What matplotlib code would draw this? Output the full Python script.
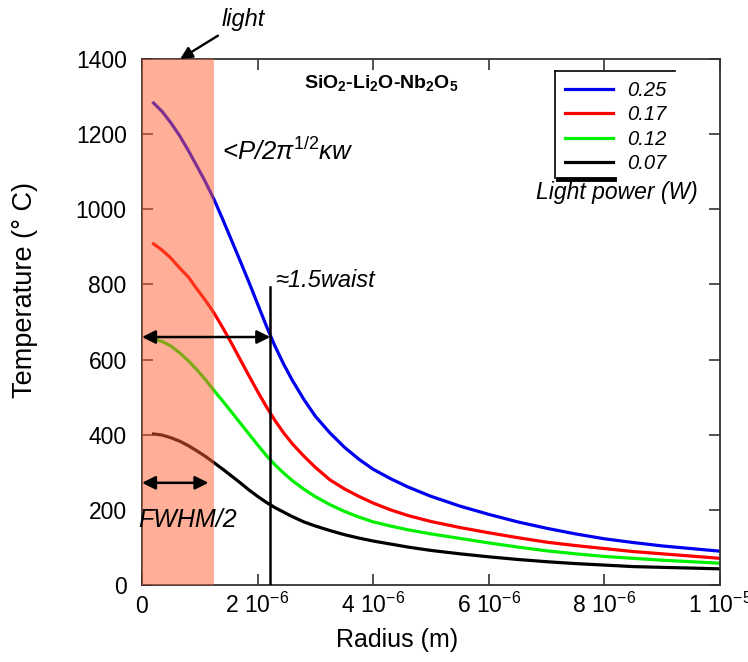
import numpy as np
import matplotlib
matplotlib.use('Agg')
import matplotlib.pyplot as plt

plt.rcParams['font.family'] = ['Liberation Sans', 'DejaVu Sans']
plt.rcParams['mathtext.fontset'] = 'custom'
plt.rcParams['mathtext.rm'] = 'Liberation Sans'
plt.rcParams['mathtext.it'] = 'Liberation Sans:italic'
plt.rcParams['mathtext.bf'] = 'Liberation Sans:bold'

# radius in micrometres
radius_um = [0.2, 0.35, 0.5, 0.65, 0.8, 0.95, 1.1, 1.25, 1.4, 1.55, 1.7, 1.85,
             2.0, 2.15, 2.3, 2.45, 2.6, 2.8, 3.0, 3.25, 3.5, 3.75, 4.0, 4.3,
             4.6, 5.0, 5.5, 6.0, 6.5, 7.0, 7.5, 8.0, 8.5, 9.0, 9.5, 10.0]
T_025 = [1283, 1260, 1230, 1196, 1157, 1115, 1072, 1025, 972, 917, 862, 806,
         748, 690, 636, 588, 545, 494, 449, 405, 367, 335, 308, 283,
         261, 236, 210, 188, 168, 151, 136, 123, 113, 104, 97, 90]
T_017 = [908, 891, 870, 844, 820, 788, 757, 723, 684, 643, 600, 557,
         515, 475, 438, 405, 376, 343, 313, 280, 256, 236, 218, 200,
         185, 169, 153, 139, 126, 114, 105, 97, 89, 83, 77, 71]
T_012 = [654, 648, 636, 618, 597, 573, 546, 517, 489, 460, 431, 402,
         373, 345, 320, 298, 278, 255, 235, 214, 196, 181, 168, 157,
         147, 136, 124, 112, 101, 91, 83, 76, 71, 66, 62, 58]
T_007 = [402, 399, 392, 383, 371, 357, 342, 325, 308, 290, 272, 253,
         236, 220, 206, 194, 182, 168, 157, 145, 134, 125, 117, 109,
         101, 92, 83, 75, 68, 62, 57, 53, 49, 47, 45, 43]
powers = ['0.25', '0.17', '0.12', '0.07']
colors = ['#0000f0', '#ff0000', '#00f000', '#000000']

xticks = [0, 2e-6, 4e-6, 6e-6, 8e-6, 1e-5]
xticklabels = ['0', '2 10$^{-6}$', '4 10$^{-6}$', '6 10$^{-6}$',
               '8 10$^{-6}$', '1 10$^{-5}$']
yticks = [0, 200, 400, 600, 800, 1000, 1200, 1400]

light_edge = 1.245e-6   # shaded beam region
waist_x = 2.22e-6
waist_T = 660
fwhm_x = 1.15e-6
fwhm_T = 272

r = np.array(radius_um) * 1e-6

fig = plt.figure(figsize=(7.48, 6.62), dpi=100)
ax = fig.add_axes([142/748, 1-585/662, 578/748, 526/662])

lines = []
for T, c, lab in zip([T_025, T_017, T_012, T_007], colors, powers):
    l, = ax.plot(r, T, color=c, lw=2.3, label=lab, zorder=2)
    lines.append(l)

ax.axvspan(0, light_edge, color=(1.0, 0.38, 0.2), alpha=0.5, lw=0, zorder=3)

ax.set_xlim(0, 1e-5)
ax.set_ylim(0, 1400)
ax.set_xticks(xticks)
ax.set_xticklabels(xticklabels)
ax.set_yticks(yticks)
ax.tick_params(direction='in', length=8, width=1.2, labelsize=16.5,
               top=True, right=True, color='#333333')
ax.tick_params(axis='y', pad=11)
ax.tick_params(axis='x', pad=20)
for lbl in ax.get_xticklabels():
    lbl.set_verticalalignment('baseline')
for s in ax.spines.values():
    s.set_linewidth(1.3)
    s.set_color('#333333')

ax.set_xlabel('Radius (m)', fontsize=18)
ax.xaxis.set_label_coords(0.441, -0.082)
ax.set_ylabel('Temperature (° C)', fontsize=19.5)
ax.yaxis.set_label_coords(-0.18, 0.56)

# arrows and marker line
ax.annotate('', xy=(0, waist_T), xytext=(waist_x, waist_T),
            arrowprops=dict(arrowstyle='<|-|>', color='k', lw=1.8,
                            mutation_scale=20, shrinkA=0, shrinkB=0), zorder=4)
ax.annotate('', xy=(0, fwhm_T), xytext=(fwhm_x, fwhm_T),
            arrowprops=dict(arrowstyle='<|-|>', color='k', lw=1.8,
                            mutation_scale=20, shrinkA=0, shrinkB=0), zorder=4)
ax.plot([waist_x, waist_x], [0, 793], color='k', lw=1.8, zorder=4)
ax.annotate('light', xy=(0.66e-6, 1400), xytext=(1.38e-6, 1504),
            fontsize=17, style='italic', va='center', ha='left',
            annotation_clip=False,
            arrowprops=dict(arrowstyle='-|>', color='k', lw=1.7,
                            mutation_scale=18, shrinkA=2, shrinkB=0))

ax.text(2.8e-6, 1337, r'SiO$_\mathbf{2}$-Li$_\mathbf{2}$O-Nb$_\mathbf{2}$O$_\mathbf{5}$',
        fontsize=14, fontweight='bold', va='center', ha='left')
ax.text(1.38e-6, 1155, r'<P/2π$^{\mathit{1/2}}$κw', fontsize=18.5, style='italic',
        va='center', ha='left')
ax.text(2.3e-6, 810, '≈1.5waist', fontsize=17, style='italic',
        va='center', ha='left')
ax.text(-0.06e-6, 172, 'FWHM/2', fontsize=18, style='italic',
        va='center', ha='left', zorder=5)

# legend with the odd open frame
leg = ax.legend(handles=lines, loc='upper left', frameon=False,
                bbox_to_anchor=((565-142)/578, (585-81)/526),
                borderpad=0, borderaxespad=0, handlelength=2.4,
                handletextpad=0.7, labelspacing=0.27,
                prop=dict(size=14.5, style='italic'))
ax.plot([(555-142)/578, (675-142)/578], [(585-71)/526]*2, color='k', lw=1.2,
        transform=ax.transAxes, clip_on=False)
ax.plot([(555-142)/578]*2, [(585-71)/526, (585-178)/526], color='k', lw=1.2,
        transform=ax.transAxes, clip_on=False)
ax.plot([(558-142)/578, (614-142)/578], [(585-179)/526]*2, color='k', lw=3.5,
        transform=ax.transAxes, clip_on=False)
ax.text((617-142)/578, (585-192)/526, 'Light power (W)', fontsize=16.5,
        style='italic', ha='center', va='center', transform=ax.transAxes)

fig.savefig('out.png', dpi=100)
